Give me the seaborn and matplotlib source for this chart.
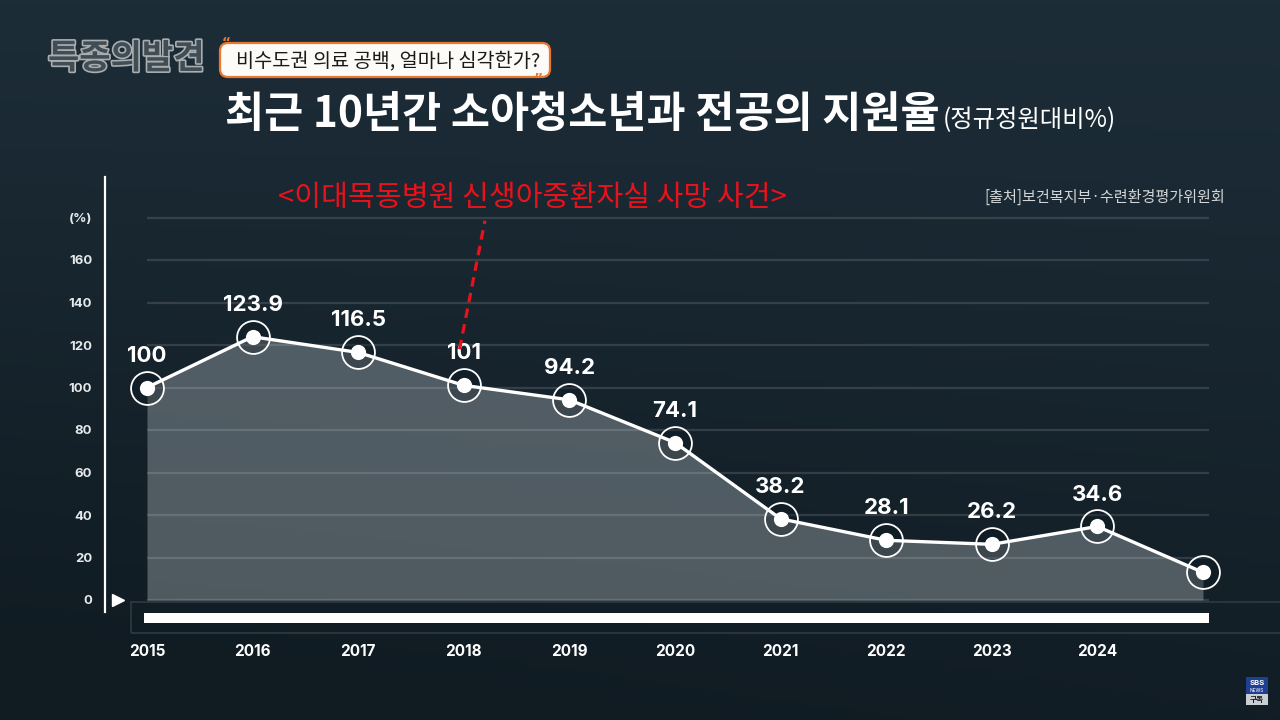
import numpy as np
import pandas as pd
import matplotlib
matplotlib.use("Agg")
import matplotlib.pyplot as plt
import seaborn as sns
from matplotlib.patches import FancyBboxPatch, Rectangle, Polygon
import matplotlib.patheffects as pe

# ---------------- data ----------------
tick_labels = ["2015", "2016", "2017", "2018", "2019", "2020", "2021", "2022", "2023", "2024", ""]
values = [100, 123.9, 116.5, 101, 94.2, 74.1, 38.2, 28.1, 26.2, 34.6, 13]
value_labels = ["100", "123.9", "116.5", "101", "94.2", "74.1", "38.2", "28.1", "26.2", "34.6", ""]
y_ticks = [0, 20, 40, 60, 80, 100, 120, 140, 160]
grid_levels = [0, 20, 40, 60, 80, 100, 120, 140, 160, 180]

title = "최근 10년간 소아청소년과 전공의 지원율"
subtitle = "(정규정원대비%)"
event_text = "<이대목동병원 신생아중환자실 사망 사건>"
source_text = "[출처]보건복지부·수련환경평가위원회"
tag_text = "비수도권 의료 공백, 얼마나 심각한가?"
logo_text = "특종의발견"
event_index = 3

sns.set_style("white")
plt.rcParams["font.family"] = ["Noto Sans CJK KR", "DejaVu Sans"]
NUM_FONT = ["Inter", "Noto Sans CJK KR", "DejaVu Sans"]

W, H = 1280, 720
fig = plt.figure(figsize=(12.8, 7.2), dpi=100)
fig.patch.set_facecolor("#16242d")

# ---------------- background gradient ----------------
bg = fig.add_axes([0, 0, 1, 1], zorder=0)
yy, xx = np.mgrid[0:1:200j, 0:1:360j]
top = np.array([0x1d, 0x2d, 0x38]) / 255
bot = np.array([0x10, 0x1b, 0x22]) / 255
t = np.clip(yy * 0.85 + (1 - xx) * 0.25 * yy, 0, 1)[..., None]
img = top * (1 - t) + bot * t
bg.imshow(img, aspect="auto", extent=[0, 1, 0, 1], origin="upper")
bg.set_axis_off()

# ---------------- main axes ----------------
x0, dx = 147, 105.6
y0, dy = 600, 2.125
xlim = (-0.4, 10.3)
ylim = (-16, 200)
left_px = x0 + xlim[0] * dx
right_px = x0 + xlim[1] * dx
bottom_px = y0 - ylim[0] * dy
top_px = y0 - ylim[1] * dy
ax = fig.add_axes([left_px / W, (H - bottom_px) / H, (right_px - left_px) / W, (bottom_px - top_px) / H], zorder=2)
ax.set_facecolor("none")
ax.set_xlim(*xlim)
ax.set_ylim(*ylim)

df = pd.DataFrame({"idx": np.arange(len(values)), "value": values})

# fill under the line
ax.fill_between(df["idx"], 0, df["value"], color="#8d979d", alpha=0.5, lw=0, zorder=1)

# grid lines
ax.hlines(grid_levels, 0, 10.06, colors="white", alpha=0.13, lw=1.6, zorder=2)

# rings
sns.scatterplot(data=df, x="idx", y="value", s=560, facecolor=(0.05, 0.09, 0.12, 0.3),
                edgecolor="white", linewidth=1.3, ax=ax, zorder=3, legend=False)
# line
sns.lineplot(data=df, x="idx", y="value", color="white", lw=2.4, ax=ax, zorder=4, legend=False)
# dots
sns.scatterplot(data=df, x="idx", y="value", s=120, color="white", edgecolor="white",
                linewidth=0, ax=ax, zorder=5, legend=False)

for i, (v, lab) in enumerate(zip(values, value_labels)):
    if lab:
        ax.annotate(lab, (i, v), xytext=(0, 23), textcoords="offset points", ha="center", va="center",
                    color="white", fontsize=16, fontweight="bold", family=NUM_FONT, zorder=6)

# axes styling
for s in ["top", "right", "bottom"]:
    ax.spines[s].set_visible(False)
ax.spines["left"].set_color("white")
ax.spines["left"].set_linewidth(1.6)
ax.spines["left"].set_bounds(-5.6, 199)
ax.set_yticks(y_ticks + [180])
ax.set_yticklabels([str(v) for v in y_ticks] + ["(%)"], family=NUM_FONT, fontsize=9.5,
                   fontweight="bold", color="#e6e9eb")
ax.set_xticks(df["idx"])
ax.set_xticklabels(tick_labels, family=NUM_FONT, fontsize=11, fontweight="bold", color="white")
ax.tick_params(axis="y", length=0, pad=9)
ax.tick_params(axis="x", length=0, pad=7)
ax.set_xlabel("")
ax.set_ylabel("")
ax.grid(False)

# small triangle at zero
ax.plot([-0.275], [0], marker=">", color="white", ms=9, mec="white", clip_on=False, zorder=6)

# bottom bar and frame
ax.add_patch(Rectangle((-0.15, -15.5), 11.5, 14.6, facecolor="none", edgecolor="#2c3b45", lw=1.2,
                       clip_on=False, zorder=1))
ax.add_patch(Rectangle((-0.03, -10.8), 10.09, 4.7, facecolor="white", edgecolor="none",
                       clip_on=False, zorder=3))

# event annotation dashed line
ex, ey = event_index, values[event_index]
ax.plot([ex - 0.04, ex + 0.2], [ey + 17, 178.5], color="#e8121c", lw=2.3, ls=(0, (3, 2.0)), zorder=6)

# ---------------- overlay for texts ----------------
ov = fig.add_axes([0, 0, 1, 1], zorder=3)
ov.set_xlim(0, W)
ov.set_ylim(H, 0)
ov.set_axis_off()
ov.patch.set_alpha(0)

t1 = ov.text(225, 127, title, fontsize=30.6, fontweight="bold", color="white", ha="left", va="baseline")
fig.canvas.draw()
bb = t1.get_window_extent(renderer=fig.canvas.get_renderer())
ov.text(bb.x1 + 3, 127, subtitle, fontsize=17.5, color="white", ha="left", va="baseline")

ov.text(532, 198, event_text, fontsize=21, color="#e8121c", ha="center", va="center")
ov.text(1225, 197, source_text, fontsize=10.9, color="#d2d6d8", ha="right", va="center")

# logo
ov.text(48, 58, logo_text, fontsize=24.5, fontweight="bold", color="#424c53", ha="left", va="center",
        path_effects=[pe.withStroke(linewidth=2.4, foreground="#a6aeb2")])
ov.add_patch(Polygon([[95, 41], [109, 41], [102, 53]], closed=True, facecolor="#f07a2a", edgecolor="none"))

# tag box
ov.add_patch(FancyBboxPatch((220, 43), 330, 34, boxstyle="round,pad=0,rounding_size=8",
                            facecolor="#fdfbf8", edgecolor="#e8782f", lw=1.6))
ov.text(388, 61, tag_text, fontsize=14.2, fontweight="medium", color="#1a1a1a", ha="center", va="center")
ov.text(226, 43, "\u201c", fontsize=10, fontweight="bold", color="#e8782f", ha="center", va="center",
        family=["DejaVu Sans"])
ov.text(538, 79, "\u201d", fontsize=10, fontweight="bold", color="#e8782f", ha="center", va="center",
        family=["DejaVu Sans"])

# SBS badge
ov.add_patch(Rectangle((1246, 677), 22, 17, facecolor="#1f3f92", edgecolor="none"))
ov.add_patch(Rectangle((1246, 694), 22, 11, facecolor="#c9ced3", edgecolor="none"))
ov.text(1257, 683, "SBS", fontsize=5.5, fontweight="bold", color="white", ha="center", va="center",
        family=NUM_FONT)
ov.text(1257, 690, "NEWS", fontsize=3.5, color="white", ha="center", va="center", family=NUM_FONT)
ov.text(1257, 699.5, "구독", fontsize=5.5, fontweight="bold", color="#1a1a1a", ha="center", va="center")

fig.savefig("out.png", dpi=100, facecolor=fig.get_facecolor())
